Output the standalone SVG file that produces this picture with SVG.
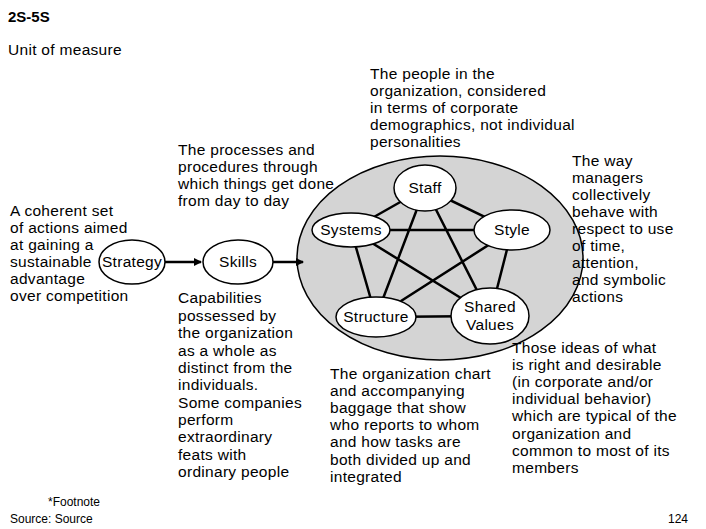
<svg xmlns="http://www.w3.org/2000/svg" width="706" height="529" viewBox="0 0 706 529">
<style>
text{font-family:"Liberation Sans",Arial,sans-serif;font-size:15.5px;letter-spacing:0.3px;fill:#000}
.n{fill:#fff;stroke:#000;stroke-width:1.5}
.c{stroke:#000;stroke-width:2.5;fill:none}
.l{text-anchor:middle}
</style>
<defs><marker id="a" markerWidth="8" markerHeight="8" refX="7" refY="4" orient="auto" markerUnits="userSpaceOnUse"><path d="M0,0L8,4L0,8z" fill="#000"/></marker></defs>
<rect width="706" height="529" fill="#fff"/>
<text x="8" y="22" style="font-weight:bold;font-size:15px;letter-spacing:0">2S-5S</text>
<text x="8" y="55">Unit of measure</text>
<ellipse id="bigcircle" cx="440" cy="258" rx="143" ry="102" fill="#d4d4d4" stroke="#000" stroke-width="1.5"/>
<g id="connectors">
<path class="c" d="M425,188L351,230M425,188L512,230M425,188L376,317M425,188L490,316M351,230L512,230M351,230L376,317M351,230L490,316M512,230L376,317M512,230L490,316M376,317L490,316"/>
<path class="c" stroke-width="2" d="M165,262L201,262" marker-end="url(#a)"/>
<path class="c" stroke-width="2" d="M273,262L303,262" marker-end="url(#a)"/>
</g>
<g id="staff"><ellipse class="n" cx="425" cy="188" rx="31" ry="23"/><text class="l" x="425" y="193">Staff</text></g>
<g id="systems"><ellipse class="n" cx="351" cy="230" rx="39" ry="17"/><text class="l" x="351" y="235">Systems</text></g>
<g id="style"><ellipse class="n" cx="512" cy="230" rx="38" ry="20"/><text class="l" x="512" y="235">Style</text></g>
<g id="structure"><ellipse class="n" cx="376" cy="317" rx="40" ry="20"/><text class="l" x="376" y="322">Structure</text></g>
<g id="sharedvalues"><ellipse class="n" cx="490" cy="316" rx="39" ry="28"/><text class="l" x="490" y="312">Shared</text><text class="l" x="490" y="330">Values</text></g>
<g id="strategy"><ellipse class="n" cx="132" cy="262" rx="33" ry="22"/><text class="l" x="132" y="267">Strategy</text></g>
<g id="skills"><ellipse class="n" cx="238" cy="262" rx="35" ry="22"/><text class="l" x="238" y="267">Skills</text></g>
<text x="10" y="216">A coherent set</text>
<text x="10" y="233">of actions aimed</text>
<text x="10" y="250">at gaining a</text>
<text x="10" y="267">sustainable</text>
<text x="10" y="284">advantage</text>
<text x="10" y="301">over competition</text>
<text x="178" y="155">The processes and</text>
<text x="178" y="172">procedures through</text>
<text x="178" y="189">which things get done</text>
<text x="178" y="206">from day to day</text>
<text x="370" y="79">The people in the</text>
<text x="370" y="96">organization, considered</text>
<text x="370" y="113">in terms of corporate</text>
<text x="370" y="130">demographics, not individual</text>
<text x="370" y="147">personalities</text>
<text x="572" y="166">The way</text>
<text x="572" y="183">managers</text>
<text x="572" y="200">collectively</text>
<text x="572" y="217">behave with</text>
<text x="572" y="234">respect to use</text>
<text x="572" y="251">of time,</text>
<text x="572" y="268">attention,</text>
<text x="572" y="285">and symbolic</text>
<text x="572" y="302">actions</text>
<text x="178" y="303">Capabilities</text>
<text x="178" y="321">possessed by</text>
<text x="178" y="338">the organization</text>
<text x="178" y="356">as a whole as</text>
<text x="178" y="373">distinct from the</text>
<text x="178" y="390">individuals.</text>
<text x="178" y="408">Some companies</text>
<text x="178" y="425">perform</text>
<text x="178" y="442">extraordinary</text>
<text x="178" y="460">feats with</text>
<text x="178" y="477">ordinary people</text>
<text x="330" y="379">The organization chart</text>
<text x="330" y="396">and accompanying</text>
<text x="330" y="413">baggage that show</text>
<text x="330" y="430">who reports to whom</text>
<text x="330" y="447">and how tasks are</text>
<text x="330" y="465">both divided up and</text>
<text x="330" y="482">integrated</text>
<text x="512" y="353">Those ideas of what</text>
<text x="512" y="370">is right and desirable</text>
<text x="512" y="387">(in corporate and/or</text>
<text x="512" y="404">individual behavior)</text>
<text x="512" y="421">which are typical of the</text>
<text x="512" y="439">organization and</text>
<text x="512" y="456">common to most of its</text>
<text x="512" y="473">members</text>
<text x="48" y="506" style="font-size:12px;letter-spacing:0">*Footnote</text>
<text x="10" y="523" style="font-size:12px;letter-spacing:0">Source: Source</text>
<text x="688" y="523" style="font-size:12px;letter-spacing:0;text-anchor:end">124</text>
</svg>
